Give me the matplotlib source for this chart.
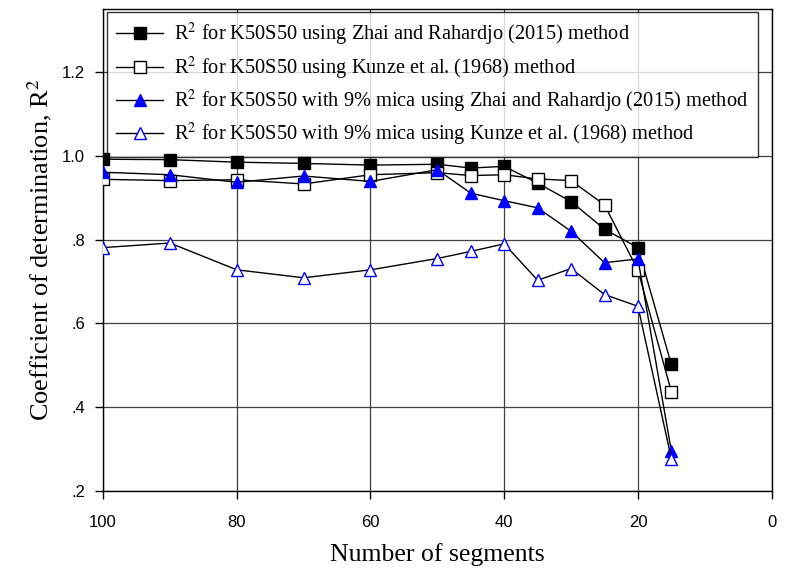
import matplotlib.pyplot as plt

plt.rcParams['mathtext.fontset'] = 'stix'

segments = [100, 90, 80, 70, 60, 50, 45, 40, 35, 30, 25, 20, 15]

zr_plain = [0.992, 0.991, 0.985, 0.982, 0.978, 0.980, 0.971, 0.975, 0.935, 0.891, 0.825, 0.781, 0.502]
kunze_plain = [0.944, 0.941, 0.943, 0.933, 0.955, 0.960, 0.953, 0.955, 0.945, 0.941, 0.883, 0.727, 0.437]
zr_mica = [0.961, 0.955, 0.937, 0.952, 0.939, 0.967, 0.911, 0.893, 0.876, 0.820, 0.745, 0.754, 0.295]
kunze_mica = [0.781, 0.792, 0.728, 0.709, 0.728, 0.755, 0.772, 0.790, 0.703, 0.731, 0.669, 0.641, 0.277]

labels = [
    r'R$^2$ for K50S50 using Zhai and Rahardjo (2015) method',
    r'R$^2$ for K50S50 using Kunze et al. (1968) method',
    r'R$^2$ for K50S50 with 9% mica using Zhai and Rahardjo (2015) method',
    r'R$^2$ for K50S50 with 9% mica using Kunze et al. (1968) method',
]

yticks = [0.2, 0.4, 0.6, 0.8, 1.0, 1.2]
ytick_labels = ['.2', '.4', '.6', '.8', '1.0', '1.2']
xticks = [100, 80, 60, 40, 20, 0]


def main():
    fig = plt.figure(figsize=(7.9, 5.69), dpi=100)
    ax = fig.add_axes([0.1304, 0.1371, 0.8464, 0.8466])

    ax.plot(segments, zr_plain, color='black', lw=1, marker='s', ms=8,
            mfc='black', mec='black', label=labels[0], zorder=5)
    ax.plot(segments, kunze_plain, color='black', lw=1, marker='s', ms=8,
            mfc='white', mec='black', label=labels[1], zorder=5)
    ax.plot(segments, zr_mica, color='black', lw=1, marker='^', ms=8.5,
            mfc='blue', mec='blue', label=labels[2], zorder=5)
    ax.plot(segments, kunze_mica, color='black', lw=1, marker='^', ms=8.5,
            mfc='white', mec='blue', label=labels[3], zorder=5)

    ax.set_xlim(100, 0)
    ax.set_ylim(0.2, 1.35)
    ax.set_xticks(xticks)
    ax.set_yticks(yticks)
    ax.set_yticklabels(ytick_labels)
    ax.tick_params(direction='out', length=6, width=1, labelsize=12)
    ax.tick_params(axis='x', pad=11)
    ax.tick_params(axis='y', pad=7)
    for t in ax.get_xticklabels() + ax.get_yticklabels():
        t.set_fontfamily('Liberation Sans')
    ax.grid(True, color='#404040', lw=0.9)
    ax.set_axisbelow(True)
    for s in ax.spines.values():
        s.set_linewidth(1)

    ax.set_xlabel('Number of segments', fontsize=18.5, family='Liberation Serif', labelpad=10)
    ax.set_ylabel('Coefficient of determination, R$^2$', fontsize=19,
                  family='Liberation Serif', labelpad=6)

    leg = ax.legend(loc='upper left', bbox_to_anchor=(0.006, 0.994),
                    prop={'family': 'Liberation Serif', 'size': 14.7},
                    frameon=True, fancybox=False, edgecolor='black',
                    handlelength=2.3, borderpad=0.45, labelspacing=0.3,
                    handletextpad=0.55, borderaxespad=0)
    leg.get_frame().set_linewidth(1)
    leg.set_zorder(4)

    fig.savefig('out.png', dpi=100)


if __name__ == '__main__':
    main()
